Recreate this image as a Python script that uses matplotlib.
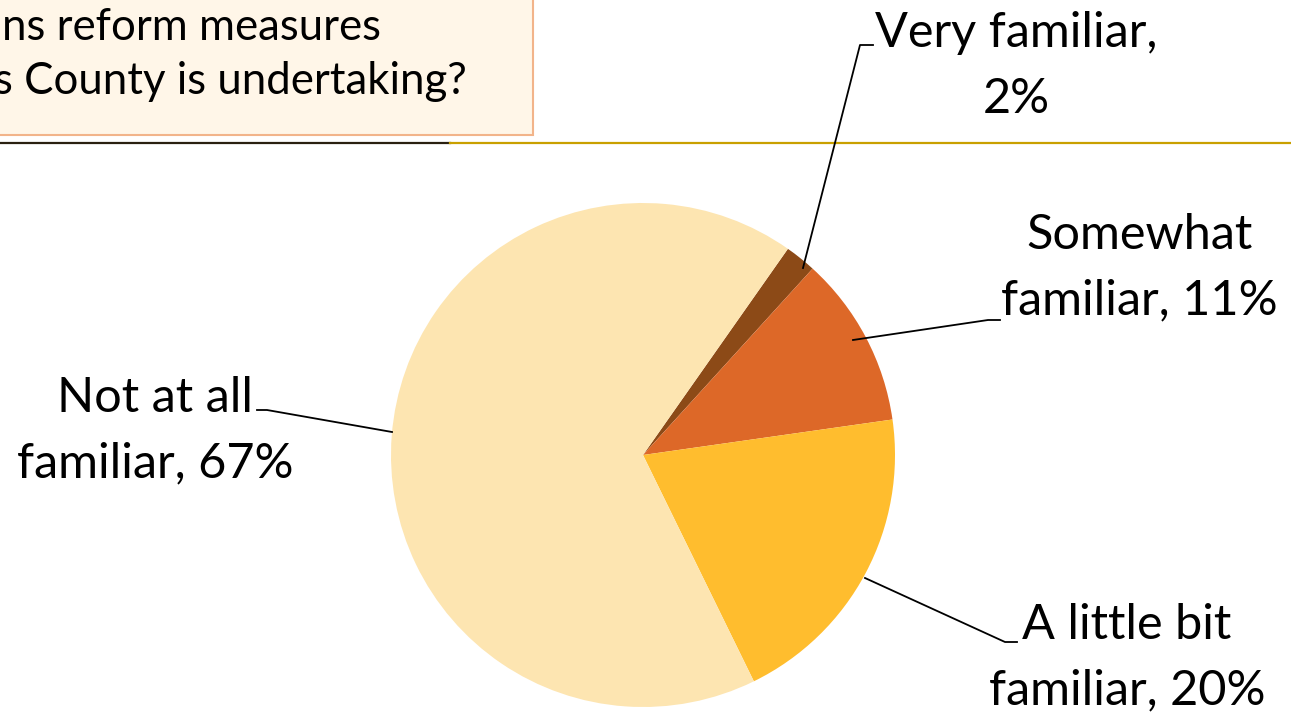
import matplotlib
matplotlib.use("Agg")
import matplotlib.pyplot as plt
from matplotlib.patches import Rectangle

# data
labels = ["Very familiar", "Somewhat familiar", "A little bit familiar", "Not at all familiar"]
values = [2, 11, 20, 67]
label_text = ["Very familiar,\n2%", "Somewhat\nfamiliar, 11%", "A little bit\nfamiliar, 20%", "Not at all\nfamiliar, 67%"]
colors = ["#8C4A17", "#DD6828", "#FFBD2E", "#FDE5B1"]
title_lines = ["ns reform measures", "s County is undertaking?"]

W, H = 1291, 717
plt.rcParams['font.family'] = ['Lato', 'DejaVu Sans']

fig = plt.figure(figsize=(W / 100, H / 100), dpi=100)
ax = fig.add_axes([0, 0, 1, 1])
ax.set_xlim(0, W)
ax.set_ylim(0, H)
ax.set_aspect('equal')
ax.axis('off')

def Y(y):
    return H - y

# pie, centre and radius in pixel units
ax.pie(values, colors=colors, startangle=54.9, counterclock=False,
       center=(643, Y(455)), radius=252, wedgeprops=dict(linewidth=0))
ax.set_xlim(0, W)
ax.set_ylim(0, H)

# title box (cropped slide header)
ax.add_patch(Rectangle((-20, Y(135)), 553, 160, facecolor="#FFF6E8",
                       edgecolor="#F2B48A", linewidth=1.5, zorder=3))
ax.text(381, Y(27), title_lines[0], ha='right', va='center', fontsize=31.5, zorder=4)
ax.text(467, Y(82), title_lines[1], ha='right', va='center', fontsize=31.5, zorder=4)

# header rule
ax.plot([0, 450], [Y(143), Y(143)], color="#2A2010", lw=1.6)
ax.plot([450, W], [Y(143), Y(143)], color="#C9A000", lw=1.6)

# labels with leader lines
fs = 35
leaders = [
    [(803, 268), (860, 45), (873, 45)],
    [(853, 340), (988, 320), (1000, 320)],
    [(865, 578), (1005, 642), (1017, 642)],
    [(392, 432), (267, 410), (257, 410)],
]
text_pos = [(1016, 66), (1139, 268), (1127, 658), (155, 431)]

for pts, pos, txt in zip(leaders, text_pos, label_text):
    xs = [p[0] for p in pts]
    ys = [Y(p[1]) for p in pts]
    ax.plot(xs, ys, color="black", lw=1.3, zorder=5)
    ax.text(pos[0], Y(pos[1]), txt, ha='center', va='center', multialignment='center',
            fontsize=fs, linespacing=1.6, zorder=5)

fig.savefig("out.png", dpi=100)
